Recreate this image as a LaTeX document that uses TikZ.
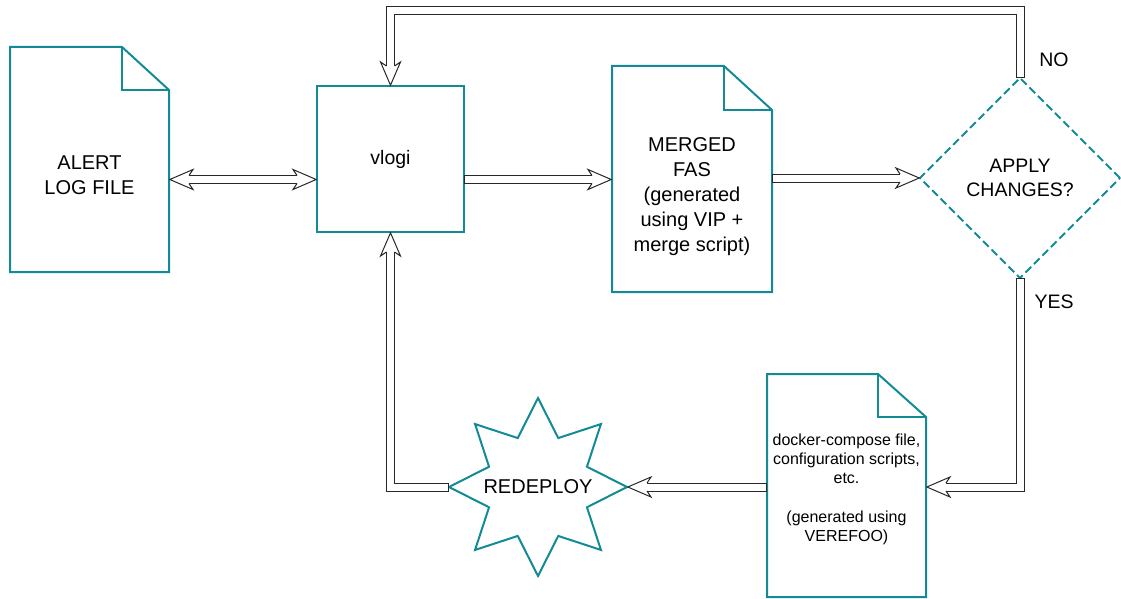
\documentclass[tikz,border=0pt]{standalone}
\usepackage{fontspec}
\setmainfont{Liberation Sans}
\usetikzlibrary{shapes.geometric,calc}
\definecolor{tealline}{RGB}{18,139,150}
\definecolor{arrowline}{RGB}{40,40,40}

\tikzset{
  txtbig/.style={font=\fontsize{20pt}{25pt}\selectfont, align=center, inner sep=0pt},
  txtmid/.style={font=\fontsize{19.5pt}{24.3pt}\selectfont, align=center, inner sep=0pt},
  txtsmall/.style={font=\fontsize{16pt}{19.3pt}\selectfont, align=center, inner sep=0pt},
  outline/.style={draw=tealline, line width=2pt},
  docnode/.style={rectangle, inner sep=0pt, outer sep=0pt},
  procbox/.style={outline, rectangle, inner sep=0pt, outer sep=0pt},
  decision/.style={outline, diamond, dash pattern=on 8pt off 4pt, inner sep=0pt, outer sep=0pt},
  burst/.style={outline, star, star points=8, star point ratio=1.68, inner sep=0pt, outer sep=0pt},
  flexout/.style={draw=arrowline, line width=9pt, line join=miter, line cap=butt},
  flexin/.style={draw=white, line width=7pt, line join=miter, line cap=butt},
  flexhead/.pic={
    \filldraw[fill=white, draw=arrowline, line width=1pt, line join=miter]
      (-20pt,4pt) -- (-24pt,10pt) -- (-0.8pt,0pt) -- (-24pt,-10pt) -- (-20pt,-4pt);
  },
}

\begin{document}
\begin{tikzpicture}[x=1pt,y=-1pt]
\useasboundingbox (0,0) rectangle (1121,599);

% ---- nodes ----
\node[docnode, minimum width=159pt, minimum height=225pt,
      label={[txtbig, yshift=-16pt]center:ALERT\\LOG FILE}] (alert) at (89.5,159.5) {};
\node[procbox, txtmid, minimum width=147pt, minimum height=146pt] (vlogi) at (390.5,159) {vlogi};
\node[docnode, minimum width=160pt, minimum height=226pt,
      label={[txtbig, yshift=-17.5pt]center:MERGED\\FAS\\(generated\\using VIP +\\merge script)}] (merged) at (692,179) {};
\node[decision, txtmid, minimum width=200pt, minimum height=200pt] (decide) at (1020,178) {APPLY\\CHANGES?};
\node[docnode, minimum width=159pt, minimum height=223pt,
      label={[txtsmall, yshift=-4pt]center:docker-compose file,\\configuration scripts,\\etc.\\[19.3pt](generated using\\VEREFOO)}] (docker) at (846.5,485.5) {};
\node[burst, minimum size=178pt, label={[txtbig]center:REDEPLOY}] (redeploy) at (538,487) {};

\node[txtmid] (no) at (1054,60) {NO};
\node[txtmid] (yes) at (1054,302) {YES};

% ---- document outlines with folded corner ----
\foreach \d/\fx/\fy in {alert/47/43, merged/48/44, docker/48/43}{
  \draw[outline, line join=miter]
    (\d.south west) -- (\d.north west) -- ([xshift=-\fx pt]\d.north east)
    -- ([yshift=-\fy pt]\d.north east) -- (\d.south east) -- cycle;
  \draw[outline, line join=miter]
    ([xshift=-\fx pt]\d.north east) -- ([xshift=-\fx pt, yshift=-\fy pt]\d.north east)
    -- ([yshift=-\fy pt]\d.north east);
}

% ---- connectors ----
\coordinate (row) at (0,179.5);
\coordinate (top) at (0,11);

% alert log <-> vlogi
\draw[flexout, shorten <=20pt, shorten >=20pt] (alert.east |- row) -- (vlogi.west |- row);
\draw[flexin, shorten <=19pt, shorten >=19pt] (alert.east |- row) -- (vlogi.west |- row);
\pic[rotate=180] at (alert.east |- row) {flexhead};
\pic at (vlogi.west |- row) {flexhead};

% vlogi -> merged FAS
\draw[flexout, shorten >=20pt] (vlogi.east |- row) -- (merged.west |- row);
\draw[flexin, shorten <=1pt, shorten >=19pt] (vlogi.east |- row) -- (merged.west |- row);
\pic at (merged.west |- row) {flexhead};

% merged FAS -> decision
\draw[flexout, shorten >=20pt] (merged.east |- decide.west) -- (decide.west);
\draw[flexin, shorten <=1pt, shorten >=19pt] (merged.east |- decide.west) -- (decide.west);
\pic at (decide.west) {flexhead};

% NO: back to vlogi
\draw[flexout, shorten >=20pt] (decide.north) -- (decide.north |- top) -| (vlogi.north);
\draw[flexin, shorten <=1pt, shorten >=19pt] (decide.north) -- (decide.north |- top) -| (vlogi.north);
\pic[rotate=-90] at (vlogi.north) {flexhead};

% YES: to generated files
\draw[flexout, shorten >=20pt] (decide.south) -- (decide.south |- redeploy.east) -- (docker.east |- redeploy.east);
\draw[flexin, shorten <=1pt, shorten >=19pt] (decide.south) -- (decide.south |- redeploy.east) -- (docker.east |- redeploy.east);
\pic[rotate=180] at (docker.east |- redeploy.east) {flexhead};

% generated files -> redeploy
\draw[flexout, shorten >=20pt] (docker.west |- redeploy.east) -- (redeploy.east);
\draw[flexin, shorten <=1pt, shorten >=19pt] (docker.west |- redeploy.east) -- (redeploy.east);
\pic[rotate=180] at (redeploy.east) {flexhead};

% redeploy -> vlogi
\draw[flexout, shorten >=20pt] (redeploy.west) -| (vlogi.south);
\draw[flexin, shorten <=1pt, shorten >=19pt] (redeploy.west) -| (vlogi.south);
\pic[rotate=90] at (vlogi.south) {flexhead};
\end{tikzpicture}
\end{document}
